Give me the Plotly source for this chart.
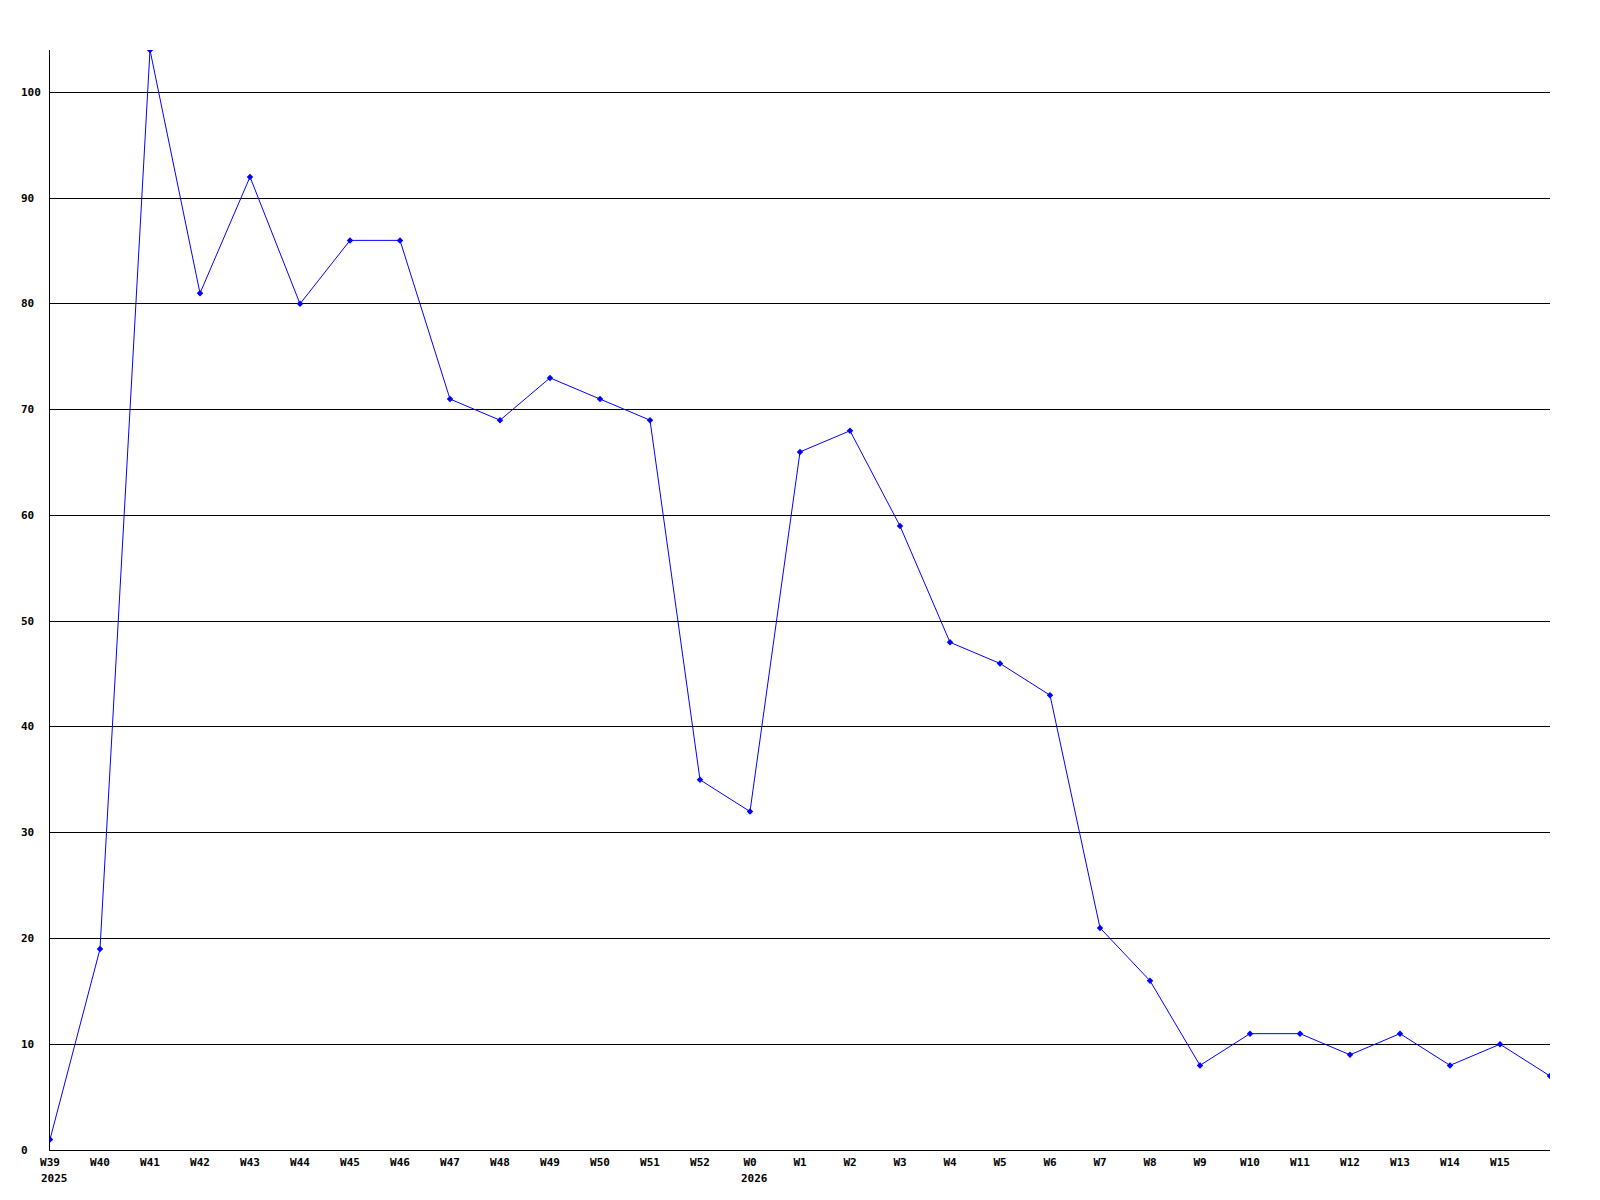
import plotly.graph_objects as go

weeks = ["W39", "W40", "W41", "W42", "W43", "W44", "W45", "W46", "W47", "W48",
         "W49", "W50", "W51", "W52", "W0", "W1", "W2", "W3", "W4", "W5",
         "W6", "W7", "W8", "W9", "W10", "W11", "W12", "W13", "W14", "W15", ""]
values = [1, 19, 104, 81, 92, 80, 86, 86, 71, 69,
          73, 71, 69, 35, 32, 66, 68, 59, 48, 46,
          43, 21, 16, 8, 11, 11, 9, 11, 8, 10, 7]
year_labels = {0: "2025", 14: "2026"}
y_ticks = [0, 10, 20, 30, 40, 50, 60, 70, 80, 90, 100]

FONT = dict(family="DejaVu Sans Mono", size=11, color="black", weight="bold")

xs = list(range(len(values)))

fig = go.Figure()
fig.add_trace(go.Scatter(
    x=xs, y=values, mode="lines+markers",
    line=dict(color="#0000ff", width=1),
    marker=dict(symbol="diamond", size=5, color="#0000ff"),
    hoverinfo="skip", showlegend=False,
))

annotations = []
for i, yr in year_labels.items():
    annotations.append(dict(x=i, y=0, xref="x", yref="paper", text=yr,
                            showarrow=False, xanchor="left", yanchor="top",
                            xshift=-11, yshift=-20, font=FONT))
for v in y_ticks:
    annotations.append(dict(x=0, y=v, xref="paper", yref="y", text=str(v),
                            showarrow=False, xanchor="left", yanchor="middle",
                            xshift=-31, font=FONT))

fig.update_layout(
    width=1600, height=1200,
    margin=dict(l=42, r=58, t=42, b=58),
    paper_bgcolor="white", plot_bgcolor="white",
    annotations=annotations,
    xaxis=dict(range=[0, len(values) - 1], tickmode="array",
               tickvals=xs[:-1], ticktext=weeks[:-1],
               showgrid=False, zeroline=False, showline=True,
               linecolor="black", linewidth=1, ticks="",
               tickfont=FONT, ticklabelstandoff=2),
    yaxis=dict(range=[0, 104], tickmode="array", tickvals=y_ticks,
               showticklabels=False, showgrid=True, gridcolor="black",
               gridwidth=1, zeroline=False, showline=True,
               linecolor="black", linewidth=1, ticks=""),
)

fig.write_html("out.html")
